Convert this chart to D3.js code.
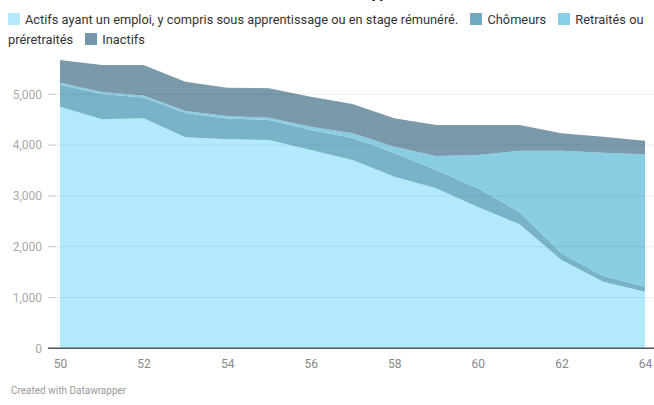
<!DOCTYPE html>
<html>
<head>
<meta charset="utf-8">
<script src="https://cdn.jsdelivr.net/npm/d3@7"></script>
<style>
  html, body { margin: 0; padding: 0; background: #fff; }
  body { width: 654px; height: 405px; position: relative; overflow: hidden; font-family: Roboto, "Noto Sans", sans-serif; }
  #legend { position: absolute; left: 8px; top: 10px; width: 650px; font-size: 12.8px; line-height: 20px; color: #333; }
  .sw { display: inline-block; width: 12px; height: 12px; vertical-align: -1px; margin-right: 5px; }
  .gap { display: inline-block; width: 9px; }
  svg { position: absolute; left: 0; top: 0; }
</style>
</head>
<body>
<div id="legend"></div>
<script>
const years = [50, 51, 52, 53, 54, 55, 56, 57, 58, 59, 60, 61, 62, 63, 64];
const actifs    = [4756, 4508, 4528, 4154, 4114, 4100, 3904, 3707, 3378, 3150, 2782, 2440, 1738, 1311, 1114];
const chomeurs  = [430, 498, 409, 478, 409, 394, 394, 433, 467, 360, 368, 242, 132, 110, 100];
const retraites = [40, 40, 40, 40, 50, 45, 65, 93, 124, 276, 655, 1208, 2020, 2429, 2606];
const inactifs  = [449, 531, 600, 577, 557, 579, 591, 577, 559, 610, 591, 506, 342, 315, 267];
const seriesNames = ["Actifs ayant un emploi, y compris sous apprentissage ou en stage rémunéré.", "Chômeurs", "Retraités ou préretraités", "Inactifs"];
const yTicks = [0, 1000, 2000, 3000, 4000, 5000];
const xTicks = [50, 52, 54, 56, 58, 60, 62, 64];
const titleText = "Statut d'activité selon le type";
const sourceText = "Created with Datawrapper";

const fills = ["#b2eafc", "#78b3c9", "#89cde3", "#7a99ab"];
const swatches = ["#b3ebfc", "#70aac2", "#88cee6", "#7896ab"];

const W = 654, H = 405;
const x = d3.scaleLinear().domain([50, 64]).range([60, 645]);
const y = d3.scaleLinear().domain([0, 5000]).range([348.3, 94.3]);

const keys = ["a", "c", "r", "i"];
const rows = years.map((yr, k) => ({ year: yr, a: actifs[k], c: chomeurs[k], r: retraites[k], i: inactifs[k] }));
const stacked = d3.stack().keys(keys)(rows);

// legend (HTML, wraps naturally; words as separate spans)
const leg = d3.select("#legend");
seriesNames.forEach((n, k) => {
  leg.append("span").attr("class", "sw").style("background", swatches[k]);
  const words = n.split(" ");
  words.forEach((w, j) => {
    leg.append("span").text(w);
    if (j < words.length - 1) leg.append(() => document.createTextNode(" "));
  });
  leg.append("span").attr("class", "gap");
  leg.append(() => document.createTextNode(" "));
});

const svg = d3.select("body").insert("svg", "#legend").attr("width", W).attr("height", H);

// cut-off title
svg.append("text").attr("x", 397).attr("y", -2).attr("text-anchor", "end")
  .attr("font-size", 16).attr("font-weight", "bold").attr("fill", "#222").text(titleText);

// areas
const area = d3.area().x(d => x(d.data.year)).y0(d => y(d[0])).y1(d => y(d[1]));
svg.append("g").selectAll("path").data(stacked).join("path")
  .attr("d", area).attr("fill", (d, k) => fills[k]);

// gridlines
const grid = svg.append("g");
yTicks.filter(t => t > 0).forEach(t => {
  grid.append("line").attr("x1", 48).attr("x2", 654).attr("y1", y(t)).attr("y2", y(t))
    .attr("stroke", "#000").attr("stroke-opacity", 0.07).attr("stroke-width", 1);
  grid.append("line").attr("x1", 48).attr("x2", 56).attr("y1", y(t)).attr("y2", y(t))
    .attr("stroke", "#ccc").attr("stroke-width", 1);
});

// y axis labels
const yAxis = d3.axisLeft(y).tickValues(yTicks).tickFormat(d3.format(",")).tickSize(0).tickPadding(0);
const ya = svg.append("g").attr("transform", "translate(42,0)").call(yAxis);
ya.select(".domain").remove();
ya.selectAll("text").attr("font-family", "Roboto, sans-serif").attr("font-size", 12).attr("fill", "#aaa");

// baseline
svg.append("line").attr("x1", 48).attr("x2", 654).attr("y1", y(0)).attr("y2", y(0))
  .attr("stroke", "#555").attr("stroke-width", 1.5);

// x axis
const xAxis = d3.axisBottom(x).tickValues(xTicks).tickFormat(d => d).tickSize(0).tickPadding(0);
const xa = svg.append("g").attr("transform", "translate(0," + (y(0) + 11) + ")").call(xAxis);
xa.select(".domain").remove();
xa.selectAll("text").attr("font-family", "Roboto, sans-serif").attr("font-size", 12).attr("fill", "#888").attr("dy", "0.71em");

// footer
svg.append("text").attr("x", 11).attr("y", 394).attr("font-size", 10).attr("font-family", "Roboto, sans-serif")
  .attr("fill", "#999").text(sourceText);
</script>
</body>
</html>
